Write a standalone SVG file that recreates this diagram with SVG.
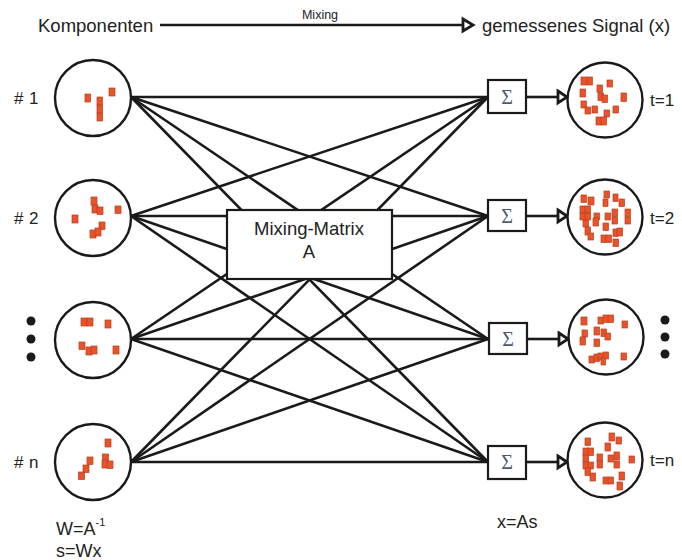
<svg xmlns="http://www.w3.org/2000/svg" width="682" height="560" viewBox="0 0 682 560">
<style>
.t{font-family:"Liberation Sans",Arial,sans-serif;fill:#222;}
.ln{stroke:#1a1a1a;stroke-width:2.6;fill:none;}
.c{fill:#fff;stroke:#1a1a1a;stroke-width:2.4;}
.sq{fill:#e8532c;stroke:#b5401f;stroke-width:0.7;}
.box{fill:#fff;stroke:#1a1a1a;stroke-width:2.2;}
.sig{font-family:"Liberation Serif","DejaVu Serif",serif;font-size:20px;fill:#4a5a72;}
.ah{fill:#fff;stroke:#1a1a1a;stroke-width:2.8;stroke-linejoin:miter;}
.dot{fill:#1a1a1a;}
</style>
<rect width="682" height="560" fill="#fff"/>

<g id="header">
<text class="t" x="38" y="32" font-size="18.5">Komponenten</text>
<line class="ln" x1="160" y1="25" x2="463" y2="25" stroke-width="3"/>
<polygon class="ah" points="463,19 473,25 463,31"/>
<text class="t" x="320" y="19" font-size="12.5" text-anchor="middle">Mixing</text>
<text class="t" x="482" y="32" font-size="18.5">gemessenes Signal (x)</text>
</g>

<g id="connectors">
<line class="ln" x1="131" y1="97" x2="488" y2="97"/>
<line class="ln" x1="131" y1="97" x2="488" y2="216"/>
<line class="ln" x1="131" y1="97" x2="488" y2="339"/>
<line class="ln" x1="131" y1="97" x2="488" y2="462"/>
<line class="ln" x1="131" y1="216" x2="488" y2="97"/>
<line class="ln" x1="131" y1="216" x2="488" y2="216"/>
<line class="ln" x1="131" y1="216" x2="488" y2="339"/>
<line class="ln" x1="131" y1="216" x2="488" y2="462"/>
<line class="ln" x1="131" y1="339" x2="488" y2="97"/>
<line class="ln" x1="131" y1="339" x2="488" y2="216"/>
<line class="ln" x1="131" y1="339" x2="488" y2="339"/>
<line class="ln" x1="131" y1="339" x2="488" y2="462"/>
<line class="ln" x1="131" y1="462" x2="488" y2="97"/>
<line class="ln" x1="131" y1="462" x2="488" y2="216"/>
<line class="ln" x1="131" y1="462" x2="488" y2="339"/>
<line class="ln" x1="131" y1="462" x2="488" y2="462"/>
<line class="ln" x1="526" y1="97" x2="558" y2="97" stroke-width="3"/>
<polygon class="ah" points="558,91 567,97 558,103"/>
<line class="ln" x1="526" y1="216" x2="558" y2="216" stroke-width="3"/>
<polygon class="ah" points="558,210 567,216 558,222"/>
<line class="ln" x1="527" y1="339" x2="559" y2="339" stroke-width="3"/>
<polygon class="ah" points="559,333 568,339 559,345"/>
<line class="ln" x1="526" y1="462" x2="558" y2="462" stroke-width="3"/>
<polygon class="ah" points="558,456 567,462 558,468"/>
</g>

<g id="matrix">
<rect class="box" x="227" y="210" width="165" height="69"/>
<text class="t" x="309" y="235" font-size="18.5" text-anchor="middle" fill="#333">Mixing-Matrix</text>
<text class="t" x="309" y="258" font-size="18.5" text-anchor="middle" fill="#333">A</text>
</g>

<g id="s1">
<circle class="c" cx="93" cy="98" r="38"/>
<rect class="sq" x="85" y="94" width="5.5" height="8"/>
<rect class="sq" x="97" y="97" width="5.5" height="8"/>
<rect class="sq" x="97" y="105" width="5.5" height="8"/>
<rect class="sq" x="97" y="113" width="5.5" height="8"/>
<rect class="sq" x="109" y="88" width="6" height="8"/>
<text class="t" x="14" y="104" font-size="17">#</text>
<text class="t" x="29" y="104" font-size="17">1</text>
</g>
<g id="s2">
<circle class="c" cx="93" cy="218" r="38"/>
<rect class="sq" x="91" y="197" width="6" height="8"/>
<rect class="sq" x="92" y="205" width="6" height="8"/>
<rect class="sq" x="97" y="207" width="6" height="7.5"/>
<rect class="sq" x="115" y="206" width="6" height="7.5"/>
<rect class="sq" x="72" y="215" width="6" height="8"/>
<rect class="sq" x="99" y="222" width="6" height="7.5"/>
<rect class="sq" x="90" y="230" width="6" height="8"/>
<rect class="sq" x="95" y="228" width="6" height="8"/>
<text class="t" x="14" y="224" font-size="17">#</text>
<text class="t" x="29" y="224" font-size="17">2</text>
</g>
<g id="s3">
<circle class="c" cx="93" cy="340" r="38"/>
<rect class="sq" x="81" y="318" width="6" height="8"/>
<rect class="sq" x="87" y="318" width="6" height="8"/>
<rect class="sq" x="105" y="320" width="6" height="8"/>
<rect class="sq" x="79" y="342" width="6" height="7.5"/>
<rect class="sq" x="86" y="347" width="6" height="8"/>
<rect class="sq" x="91" y="346" width="6" height="8"/>
<rect class="sq" x="113" y="346" width="6" height="8"/>
<circle class="dot" cx="31" cy="321" r="4.5"/>
<circle class="dot" cx="31" cy="339" r="4.5"/>
<circle class="dot" cx="31" cy="357" r="4.5"/>
</g>
<g id="s4">
<circle class="c" cx="93" cy="462" r="38"/>
<rect class="sq" x="105" y="439" width="6" height="8"/>
<rect class="sq" x="102.5" y="454" width="6" height="7.5"/>
<rect class="sq" x="102" y="460" width="6" height="8"/>
<rect class="sq" x="107" y="461" width="6" height="7.5"/>
<rect class="sq" x="87" y="457" width="6" height="7.5"/>
<rect class="sq" x="83" y="465" width="6" height="7.5"/>
<rect class="sq" x="78.5" y="472" width="6" height="7.5"/>
<text class="t" x="14" y="468" font-size="17">#</text>
<text class="t" x="29" y="468" font-size="17">n</text>
</g>

<g id="sum1"><rect class="box" x="488" y="80" width="38" height="33"/><text class="sig" x="507" y="104" text-anchor="middle">Σ</text></g>
<g id="sum2"><rect class="box" x="488" y="200" width="38" height="31"/><text class="sig" x="507" y="223" text-anchor="middle">Σ</text></g>
<g id="sum3"><rect class="box" x="489" y="323" width="38" height="31"/><text class="sig" x="508" y="346" text-anchor="middle">Σ</text></g>
<g id="sum4"><rect class="box" x="488" y="446" width="38" height="33"/><text class="sig" x="507" y="469" text-anchor="middle">Σ</text></g>

<g id="x1">
<circle class="c" cx="605" cy="100" r="37.5"/>
<rect class="sq" x="581" y="77" width="5.5" height="8"/>
<rect class="sq" x="587" y="77" width="5.5" height="8"/>
<rect class="sq" x="607" y="80" width="5.5" height="7"/>
<rect class="sq" x="597" y="85" width="5.5" height="7.5"/>
<rect class="sq" x="580" y="89" width="5.5" height="8"/>
<rect class="sq" x="598" y="93" width="5.5" height="7.5"/>
<rect class="sq" x="602" y="95" width="5.5" height="7.5"/>
<rect class="sq" x="621" y="93" width="5.5" height="8.5"/>
<rect class="sq" x="581" y="101" width="5.5" height="7"/>
<rect class="sq" x="585" y="107" width="5.5" height="7"/>
<rect class="sq" x="592" y="106" width="5.5" height="7"/>
<rect class="sq" x="613" y="106" width="5.5" height="7"/>
<rect class="sq" x="604" y="110" width="5.5" height="7"/>
<rect class="sq" x="596" y="117" width="5.5" height="8"/>
<rect class="sq" x="601" y="117" width="5.5" height="8"/>
<text class="t" x="650" y="106" font-size="17">t=1</text>
</g>
<g id="x2">
<circle class="c" cx="605" cy="217" r="37.5"/>
<rect class="sq" x="581" y="195" width="5.5" height="7.5"/>
<rect class="sq" x="588" y="197" width="6" height="8"/>
<rect class="sq" x="604" y="191" width="5.5" height="7"/>
<rect class="sq" x="603" y="199" width="5" height="7.5"/>
<rect class="sq" x="613" y="194" width="5" height="7.5"/>
<rect class="sq" x="619" y="199" width="5.5" height="7.5"/>
<rect class="sq" x="580" y="206" width="5.5" height="7"/>
<rect class="sq" x="585" y="206" width="5.5" height="7"/>
<rect class="sq" x="580" y="213" width="5.5" height="7"/>
<rect class="sq" x="585" y="213" width="5.5" height="7"/>
<rect class="sq" x="594" y="213" width="5.5" height="7"/>
<rect class="sq" x="605" y="213" width="5.5" height="7"/>
<rect class="sq" x="612" y="209" width="5.5" height="7.5"/>
<rect class="sq" x="625" y="209" width="5.5" height="7.5"/>
<rect class="sq" x="583" y="220" width="5.5" height="7"/>
<rect class="sq" x="593" y="218" width="5.5" height="8"/>
<rect class="sq" x="612" y="217" width="5.5" height="7"/>
<rect class="sq" x="625" y="217" width="5.5" height="7"/>
<rect class="sq" x="603" y="223" width="5.5" height="7.5"/>
<rect class="sq" x="585" y="227" width="5.5" height="8"/>
<rect class="sq" x="588" y="233" width="5.5" height="7"/>
<rect class="sq" x="613" y="229" width="5" height="7.5"/>
<rect class="sq" x="617" y="228" width="5.5" height="8"/>
<rect class="sq" x="601" y="235" width="5.5" height="7.5"/>
<rect class="sq" x="606" y="235" width="5.5" height="7.5"/>
<rect class="sq" x="613" y="239" width="5.5" height="7.5"/>
<text class="t" x="650" y="224" font-size="17">t=2</text>
</g>
<g id="x3">
<circle class="c" cx="606" cy="337" r="37.5"/>
<rect class="sq" x="581" y="317" width="6" height="8"/>
<rect class="sq" x="598" y="317" width="5.5" height="7"/>
<rect class="sq" x="603" y="315" width="5.5" height="7.5"/>
<rect class="sq" x="608" y="315" width="5.5" height="7.5"/>
<rect class="sq" x="622" y="321" width="5.5" height="7"/>
<rect class="sq" x="594" y="327" width="5.5" height="8"/>
<rect class="sq" x="601" y="329" width="5.5" height="7.5"/>
<rect class="sq" x="605" y="333" width="5.5" height="7"/>
<rect class="sq" x="582" y="330" width="5.5" height="7"/>
<rect class="sq" x="580" y="337" width="5.5" height="8"/>
<rect class="sq" x="594" y="339" width="5.5" height="7.5"/>
<rect class="sq" x="589" y="356" width="5.5" height="7"/>
<rect class="sq" x="594" y="354" width="5.5" height="7.5"/>
<rect class="sq" x="598" y="353" width="5.5" height="7"/>
<rect class="sq" x="603" y="352" width="5.5" height="7"/>
<rect class="sq" x="601" y="358" width="4.5" height="7"/>
<rect class="sq" x="621" y="353" width="5.5" height="7"/>
<circle class="dot" cx="665" cy="320" r="4.5"/>
<circle class="dot" cx="665" cy="337" r="4.5"/>
<circle class="dot" cx="665" cy="354" r="4.5"/>
</g>
<g id="x4">
<circle class="c" cx="605" cy="460" r="37.5"/>
<rect class="sq" x="585" y="438" width="5.5" height="7.5"/>
<rect class="sq" x="609" y="433" width="5.5" height="8"/>
<rect class="sq" x="616" y="437" width="5.5" height="7"/>
<rect class="sq" x="605" y="443" width="5.5" height="8"/>
<rect class="sq" x="583" y="448" width="5.5" height="7.5"/>
<rect class="sq" x="588" y="448" width="5.5" height="7.5"/>
<rect class="sq" x="583" y="455" width="5.5" height="7"/>
<rect class="sq" x="583" y="462" width="5.5" height="7"/>
<rect class="sq" x="588" y="462" width="5.5" height="7"/>
<rect class="sq" x="597" y="454" width="5.5" height="7.5"/>
<rect class="sq" x="597" y="461" width="5.5" height="7"/>
<rect class="sq" x="608" y="455" width="5.5" height="7"/>
<rect class="sq" x="614" y="452" width="5.5" height="8"/>
<rect class="sq" x="614" y="461" width="5.5" height="7"/>
<rect class="sq" x="629" y="456" width="5.5" height="7"/>
<rect class="sq" x="585" y="468" width="5.5" height="7.5"/>
<rect class="sq" x="590" y="473" width="5.5" height="8"/>
<rect class="sq" x="603" y="477" width="5.5" height="7"/>
<rect class="sq" x="608" y="477" width="5.5" height="7"/>
<rect class="sq" x="617" y="482" width="5.5" height="8"/>
<rect class="sq" x="619" y="472" width="5.5" height="8"/>
<text class="t" x="650" y="466" font-size="17">t=n</text>
</g>

<g id="formulas">
<text class="t" x="56" y="535" font-size="18">W=A<tspan font-size="11" dy="-9">-1</tspan></text>
<text class="t" x="56" y="557" font-size="18">s=Wx</text>
<text class="t" x="497" y="528" font-size="18">x=As</text>
</g>
</svg>
